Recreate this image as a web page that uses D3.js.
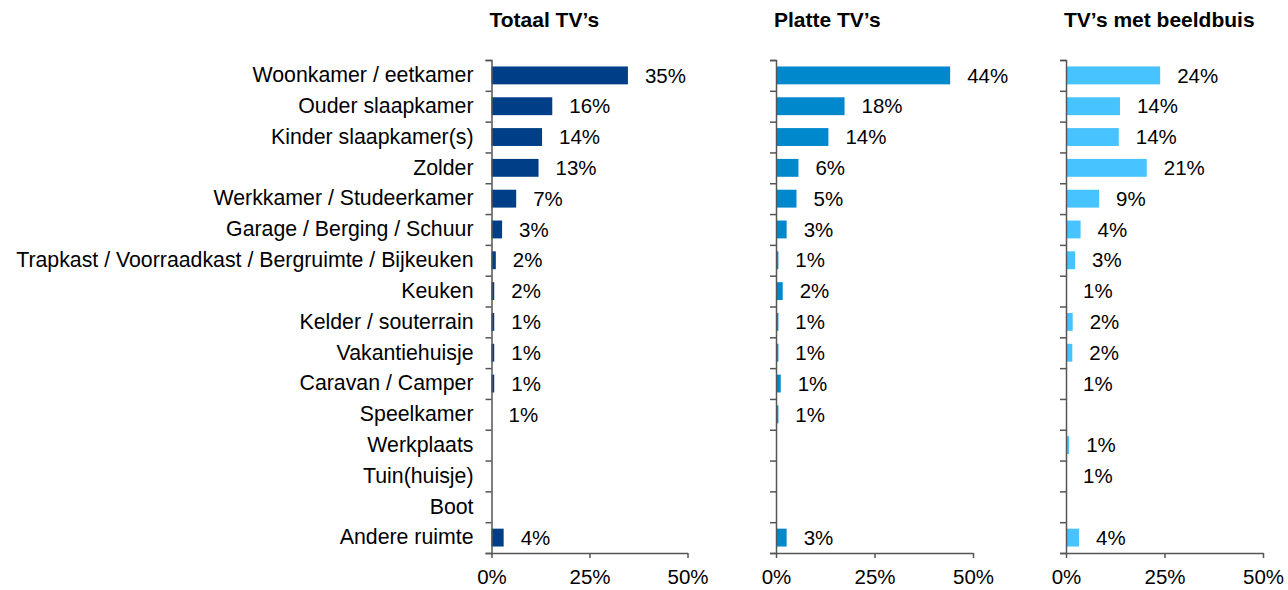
<!DOCTYPE html>
<html>
<head>
<meta charset="utf-8">
<script src="https://cdn.jsdelivr.net/npm/d3@7"></script>
<style>
  body { margin: 0; background: #fff; }
  svg text { font-family: "Liberation Sans", Arial, sans-serif; fill: #000; }
</style>
</head>
<body>
<div class="chart"></div>
<script>
const categories = [
  'Woonkamer / eetkamer', 'Ouder slaapkamer', 'Kinder slaapkamer(s)', 'Zolder',
  'Werkkamer / Studeerkamer', 'Garage / Berging / Schuur',
  'Trapkast / Voorraadkast / Bergruimte / Bijkeuken', 'Keuken', 'Kelder / souterrain',
  'Vakantiehuisje', 'Caravan / Camper', 'Speelkamer', 'Werkplaats', 'Tuin(huisje)',
  'Boot', 'Andere ruimte'
]
const titles = ['Totaal TV\u2019s', 'Platte TV\u2019s', 'TV\u2019s met beeldbuis']

// bar lengths
const totaalValues = [34.8, 15.5, 12.9, 12.0, 6.3, 2.7, 1.1, 0.7, 0.7, 0.7, 0.7, 0, 0, 0, 0, 3.1]
const platteValues = [44.2, 17.4, 13.3, 5.7, 5.2, 2.7, 0.6, 1.7, 0.6, 0.6, 1.2, 0.6, 0, 0, 0, 2.7]
const beeldbuisValues = [23.9, 13.7, 13.4, 20.5, 8.4, 3.7, 2.3, 0, 1.7, 1.6, 0, 0, 0.8, 0, 0, 3.3]

// data labels as printed
const totaalLabels = ['35%', '16%', '14%', '13%', '7%', '3%', '2%', '2%', '1%', '1%', '1%', '1%', '', '', '', '4%']
const platteLabels = ['44%', '18%', '14%', '6%', '5%', '3%', '1%', '2%', '1%', '1%', '1%', '1%', '', '', '', '3%']
const beeldbuisLabels = ['24%', '14%', '14%', '21%', '9%', '4%', '3%', '1%', '2%', '2%', '1%', '', '1%', '1%', '', '4%']

const xTicks = [0, 25, 50]

const width = 1288
const height = 590
const plotTop = 60
const plotBottom = 553

const panels = [
  { title: titles[0], values: totaalValues, labels: totaalLabels, color: '#003f87', x0: 491.5, x1: 687.5 },
  { title: titles[1], values: platteValues, labels: platteLabels, color: '#0088cc', x0: 776, x1: 973 },
  { title: titles[2], values: beeldbuisValues, labels: beeldbuisLabels, color: '#47c3ff', x0: 1066, x1: 1263 }
]

const svg = d3.select('.chart')
  .append('svg')
  .attr('width', width)
  .attr('height', height)

const yScale = d3.scaleBand()
  .domain(categories)
  .range([plotTop, plotBottom])
  .paddingInner(0.42)
  .paddingOuter(0.21)

// boundary ticks between categories
const yEdges = d3.scaleLinear()
  .domain([0, categories.length])
  .range([plotTop, plotBottom])

// category names
const catAxis = svg.append('g')
  .attr('transform', 'translate(' + (panels[0].x0 - 18) + ',0)')
  .call(d3.axisLeft(yScale).tickSize(0).tickPadding(0))
catAxis.select('.domain').remove()
catAxis.selectAll('text')
  .style('font-size', '21.3px')
  .attr('fill', '#000')

panels.forEach(p => {
  const xScale = d3.scaleLinear()
    .domain([0, 50])
    .range([p.x0, p.x1])

  const rows = categories.map((c, i) => ({ cat: c, value: p.values[i], label: p.labels[i] }))

  svg.append('text')
    .attr('x', xScale(0) - 2)
    .attr('y', 27)
    .style('font-size', '21px')
    .style('font-weight', 'bold')
    .text(p.title)

  svg.append('g')
    .selectAll('rect')
    .data(rows.filter(d => d.value > 0))
    .enter()
    .append('rect')
    .attr('x', xScale(0))
    .attr('y', d => yScale(d.cat))
    .attr('width', d => xScale(d.value) - xScale(0))
    .attr('height', yScale.bandwidth())
    .attr('fill', p.color)

  svg.append('g')
    .selectAll('text')
    .data(rows.filter(d => d.label !== ''))
    .enter()
    .append('text')
    .attr('x', d => xScale(d.value) + 17)
    .attr('y', d => yScale(d.cat) + yScale.bandwidth() / 2)
    .attr('dy', '0.35em')
    .style('font-size', '20.5px')
    .text(d => d.label)

  const yAxis = svg.append('g')
    .attr('transform', 'translate(' + xScale(0) + ',0)')
    .call(d3.axisLeft(yEdges).ticks(categories.length).tickFormat('').tickSize(6).tickSizeOuter(6))
  yAxis.selectAll('line').attr('stroke', '#555').attr('stroke-width', 1.5)
  yAxis.select('.domain').attr('stroke', '#555').attr('stroke-width', 1.5)

  const xAxis = svg.append('g')
    .attr('transform', 'translate(0,' + plotBottom + ')')
    .call(d3.axisBottom(xScale).tickValues(xTicks).tickFormat(d => d + '%').tickSize(5).tickSizeOuter(0).tickPadding(11))
  xAxis.selectAll('line').attr('stroke', '#555').attr('stroke-width', 1.5)
  xAxis.select('.domain').attr('stroke', '#555').attr('stroke-width', 1.5)
  xAxis.selectAll('text')
    .style('font-size', '20.5px')
    .attr('fill', '#000')
})
</script>
</body>
</html>
